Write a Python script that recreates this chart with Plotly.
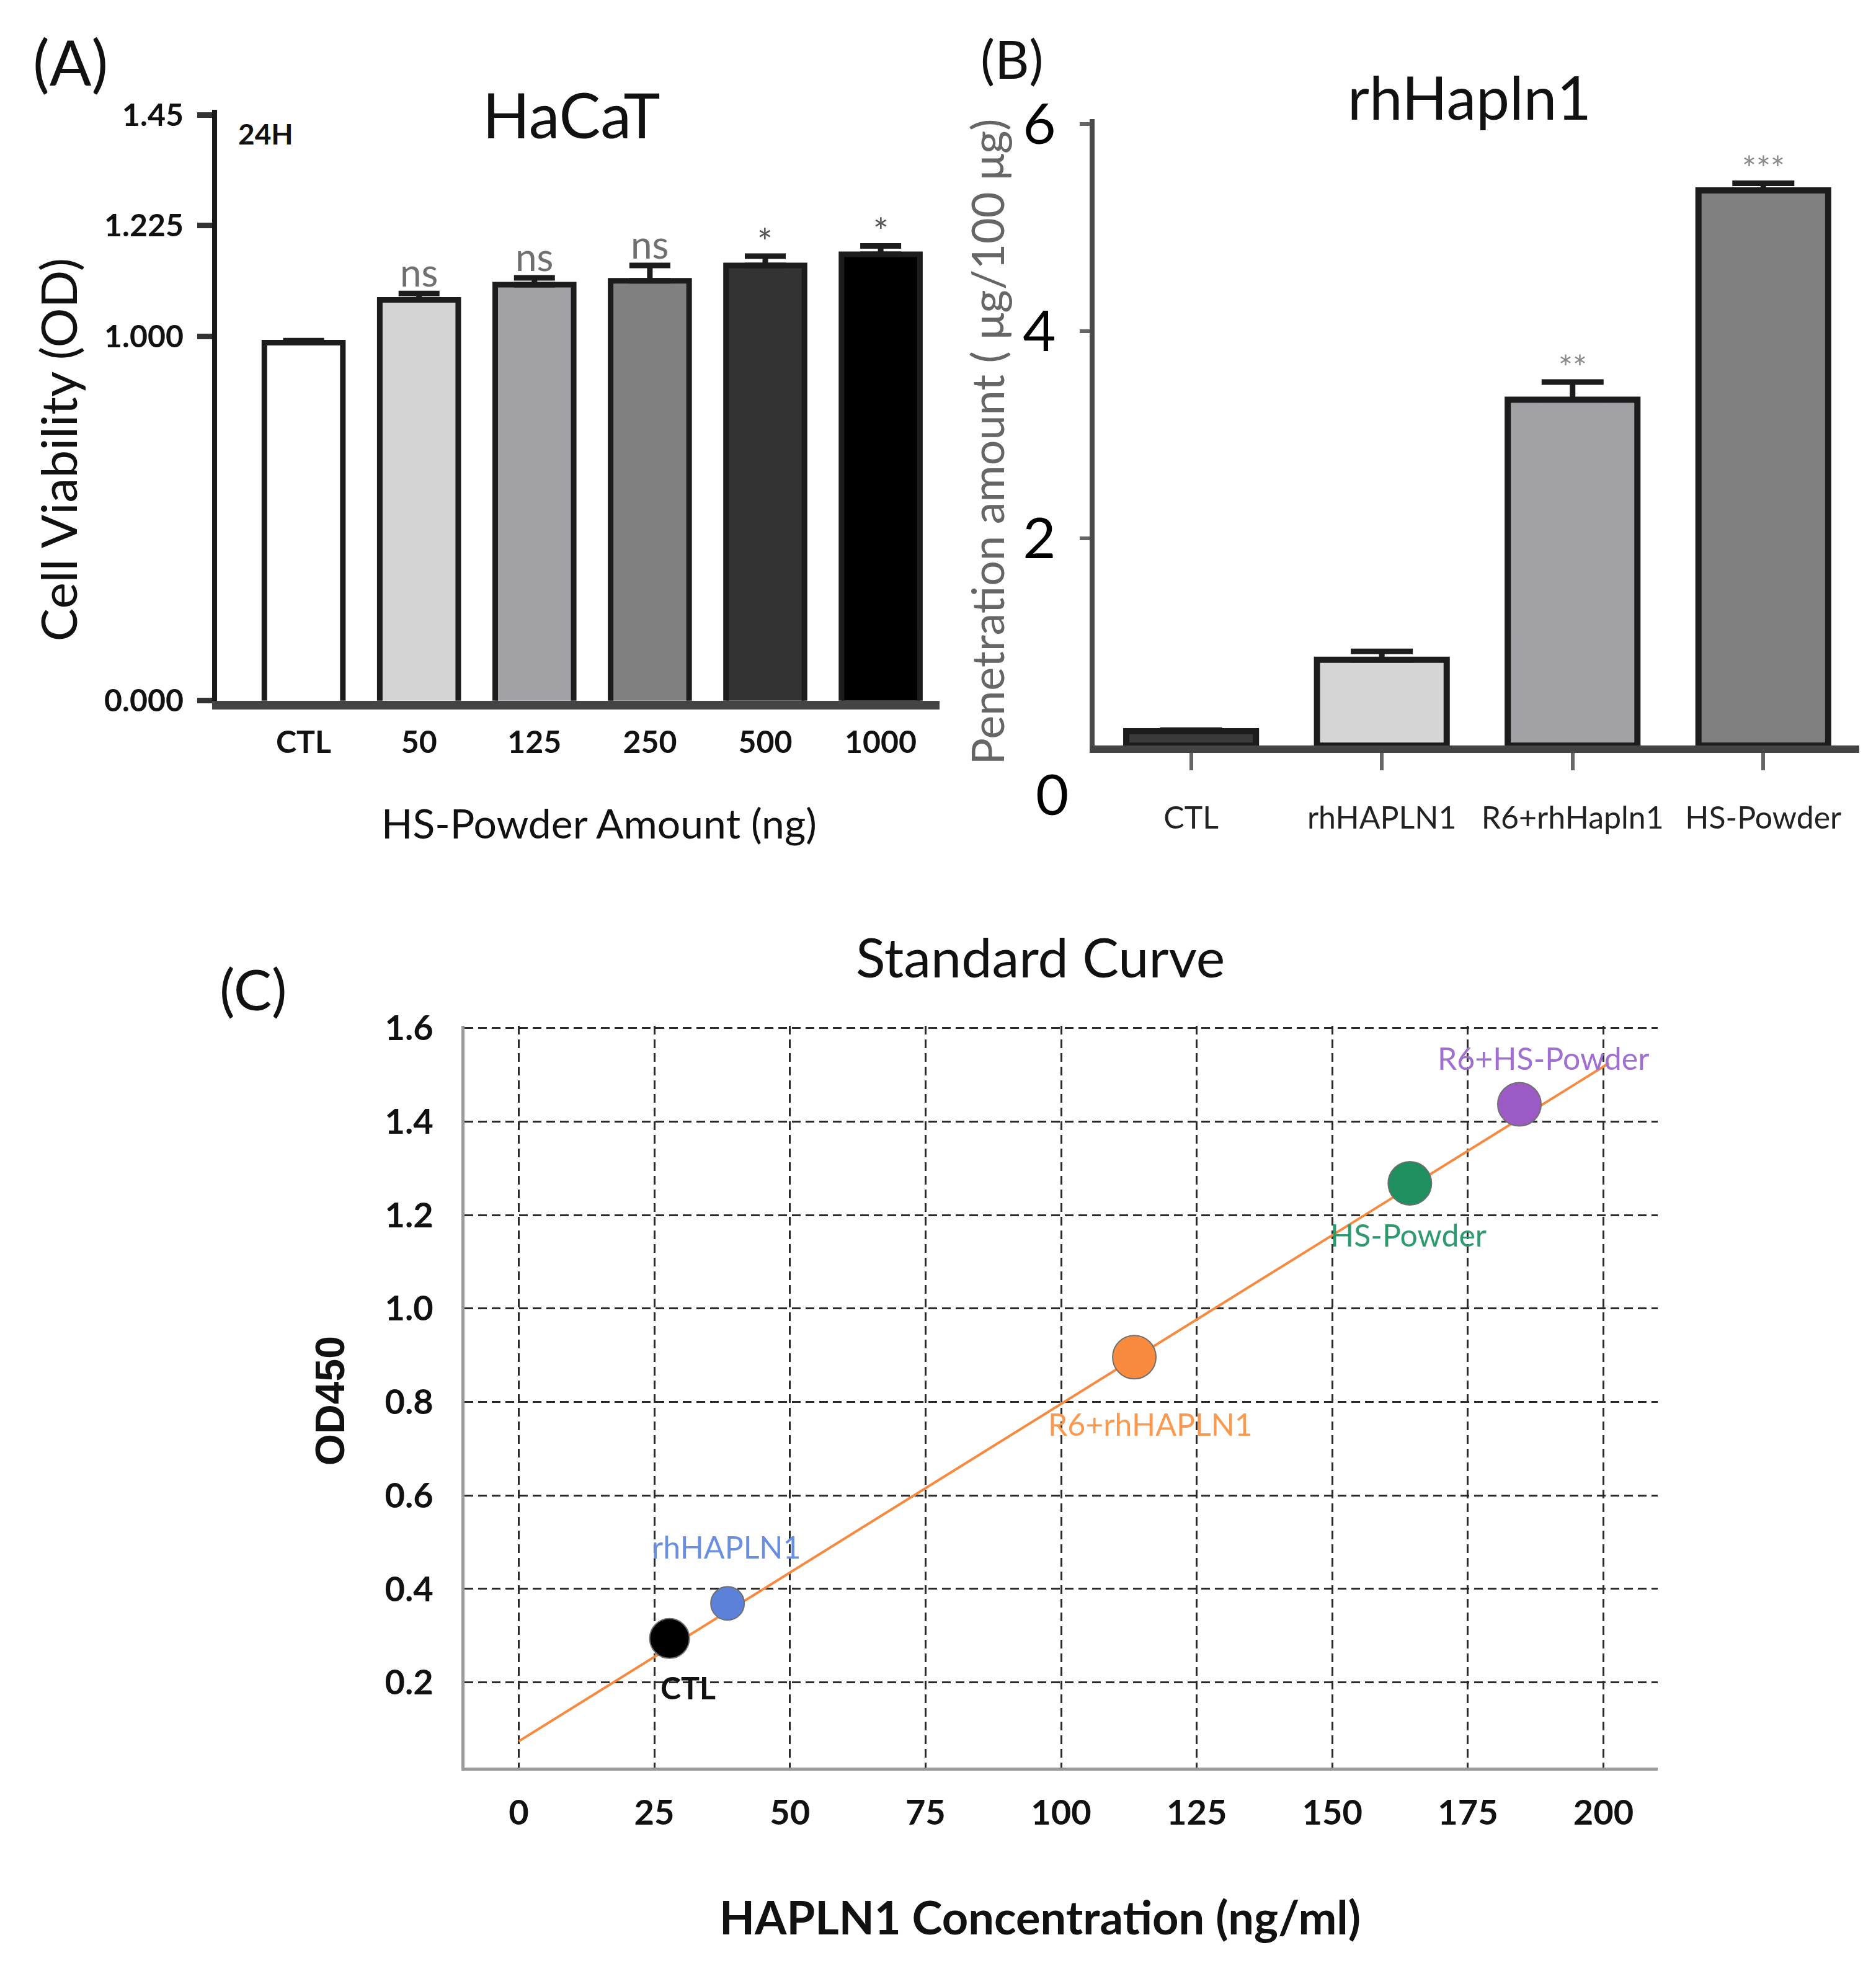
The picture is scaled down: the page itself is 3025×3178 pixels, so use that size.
import plotly.graph_objects as go

W, H = 3025, 3178

# ---------------- Panel A data ----------------
a_categories = ["CTL", "50", "125", "250", "500", "1000"]
a_values = [0.987, 1.074, 1.105, 1.113, 1.144, 1.167]
a_errors = [0.004, 0.013, 0.014, 0.031, 0.019, 0.017]
a_colors = ["#ffffff", "#d4d4d4", "#a2a1a6", "#808080", "#333333", "#000000"]
a_marks = ["", "ns", "ns", "ns", "*", "*"]
a_tickvals = [0.2585, 1.0, 1.225, 1.45]
a_ticktext = ["0.000", "1.000", "1.225", "1.45"]

# ---------------- Panel B data ----------------
b_categories = ["CTL", "rhHAPLN1", "R6+rhHapln1", "HS-Powder"]
b_values = [0.14, 0.83, 3.34, 5.36]
b_errors = [0.01, 0.08, 0.17, 0.07]
b_colors = ["#3a3a3a", "#d6d6d6", "#a2a2a6", "#808080"]
b_marks = ["", "", "**", "***"]
b_tickvals = [2, 4, 6]

# ---------------- Panel C data ----------------
c_labels = ["CTL", "rhHAPLN1", "R6+rhHAPLN1", "HS-Powder", "R6+HS-Powder"]
c_x = [27.8, 38.5, 113.5, 164.3, 184.5]
c_y = [0.294, 0.369, 0.896, 1.268, 1.437]
c_colors = ["#000000", "#5b82d8", "#f98b3e", "#1f8f5f", "#9c5bc4"]
c_text_colors = ["#111111", "#6b8fe0", "#f99a50", "#2e9a6e", "#a070d0"]
c_sizes = [64, 54, 70, 70, 70]
c_label_dx = [30, -2, 26, -2, 39]
c_label_dy = [-79, 91, -108, -83, 75]
fit_x = [0, 201]
fit_y = [0.074, 1.525]
c_xticks = [0, 25, 50, 75, 100, 125, 150, 175, 200]
c_yticks = [0.2, 0.4, 0.6, 0.8, 1.0, 1.2, 1.4, 1.6]

FONT = "Lato"
TOP = 60.0
SPAN = H - TOP


def px(x):
    return x / W


def py(y):
    return 1 - (y - TOP) / SPAN


fig = go.Figure()

# Panel A bars
fig.add_trace(go.Bar(
    x=a_categories, y=a_values, xaxis="x", yaxis="y",
    marker=dict(color=a_colors, line=dict(color="#1c1c1c", width=9)),
    error_y=dict(type="data", array=a_errors, arrayminus=[0] * len(a_errors),
                 symmetric=False, thickness=9, width=33, color="#1c1c1c"),
    showlegend=False, hoverinfo="skip",
))

# Panel B bars
fig.add_trace(go.Bar(
    x=b_categories, y=b_values, xaxis="x2", yaxis="y2",
    marker=dict(color=b_colors, line=dict(color="#1c1c1c", width=10)),
    error_y=dict(type="data", array=b_errors, arrayminus=[0] * len(b_errors),
                 symmetric=False, thickness=9, width=50, color="#1c1c1c"),
    showlegend=False, hoverinfo="skip",
))

# Panel C fit line
fig.add_trace(go.Scatter(
    x=fit_x, y=fit_y, xaxis="x3", yaxis="y3", mode="lines",
    line=dict(color="#f58a40", width=4), showlegend=False, hoverinfo="skip",
))
# Panel C points
fig.add_trace(go.Scatter(
    x=c_x, y=c_y, xaxis="x3", yaxis="y3", mode="markers",
    marker=dict(color=c_colors, size=c_sizes, opacity=1,
                line=dict(color="#6f6f6f", width=2)),
    showlegend=False, hoverinfo="skip",
))

annotations = []

# significance marks panel A (category index positions)
for i, (v, e, m) in enumerate(zip(a_values, a_errors, a_marks)):
    if m:
        annotations.append(dict(
            x=i, y=v + e, xref="x", yref="y", text=m, showarrow=False,
            yanchor="bottom", yshift=(-4 if m == "ns" else -12),
            font=dict(family=FONT, size=(62 if m == "ns" else 58),
                      color=("#707070" if m == "ns" else "#555555")),
        ))

# significance marks panel B
for i, (v, e, m) in enumerate(zip(b_values, b_errors, b_marks)):
    if m:
        annotations.append(dict(
            x=i, y=v + e, xref="x2", yref="y2", text=m, showarrow=False,
            yanchor="bottom", yshift=-10,
            font=dict(family=FONT, size=54, color="#8a8a8a"),
        ))

# point labels panel C
for lab, x, y, col, dx, dy in zip(c_labels, c_x, c_y, c_text_colors, c_label_dx, c_label_dy):
    annotations.append(dict(
        x=x, y=y, xref="x3", yref="y3", text=lab, showarrow=False,
        xshift=dx, yshift=dy,
        font=dict(family=FONT, size=50, color=col,
                  weight=("bold" if lab == "CTL" else "normal")),
    ))


def txt(text, x, y, size, color="#111111", angle=0, weight="normal", family=FONT):
    annotations.append(dict(
        x=px(x), y=py(y), xref="paper", yref="paper", text=text, showarrow=False,
        xanchor="center", yanchor="middle", textangle=angle,
        font=dict(family=family, size=size, color=color, weight=weight),
    ))


# Panel A texts
txt("(A)", 105, 101, 100)
txt("HaCaT", 913, 187, 100)
txt("24H", 420, 218, 46, weight="bold")
txt("Cell Viability (OD)", 85, 731, 80, angle=-90)
txt("HS-Powder Amount (ng)", 958, 1336, 66)

# Panel B texts
txt("(B)", 1624, 96, 86)
txt("rhHapln1", 2361, 158, 96)
txt("Penetration amount ( μg/100 μg)", 1583, 718, 72, color="#666666", angle=-90)
txt("0", 1688, 1288, 92, color="#000000")

# Panel C texts
txt("(C)", 400, 1604, 92)
txt("Standard Curve", 1669, 1553, 88)
txt("OD450", 524, 2274, 66, angle=-90, weight="bold", family="Liberation Sans")
txt("HAPLN1 Concentration (ng/ml)", 1669, 3110, 74, weight="bold")

grid_common = dict(showgrid=True, gridcolor="#2a2a2a", gridwidth=3, griddash="14px,8px",
                   zeroline=False, showline=True, linewidth=5, linecolor="#9a9a9a",
                   ticks="", tickfont=dict(family=FONT, size=56, color="#111111", weight="bold"))

fig.update_layout(
    width=W, height=H, autosize=False,
    margin=dict(l=0, r=0, t=0, b=0),
    paper_bgcolor="white", plot_bgcolor="white",
    bargap=0.32,
    annotations=annotations,
    xaxis=dict(
        domain=[px(342), px(1507)], anchor="y", type="category",
        range=[-0.75, 5.51], showline=True, linewidth=14, linecolor="#444444",
        ticks="", showgrid=False, zeroline=False, ticklabelstandoff=10,
        tickfont=dict(family=FONT, size=50, color="#111111", weight="bold"),
    ),
    yaxis=dict(
        domain=[py(1138), py(180)], anchor="x",
        range=[0.2585, 1.4605], tickvals=a_tickvals, ticktext=a_ticktext,
        showline=True, linewidth=8, linecolor="#1a1a1a",
        ticks="outside", ticklen=24, tickwidth=9, tickcolor="#333333",
        showgrid=False, zeroline=False, ticklabelstandoff=12,
        tickfont=dict(family=FONT, size=50, color="#111111", weight="bold"),
    ),
    xaxis2=dict(
        domain=[px(1757), px(2990)], anchor="y2", type="category",
        range=[-0.506, 3.503], showline=True, linewidth=12, linecolor="#444444",
        ticks="outside", ticklen=28, tickwidth=6, tickcolor="#666666",
        showgrid=False, zeroline=False, ticklabelstandoff=34,
        tickfont=dict(family=FONT, size=50, color="#222222"),
    ),
    yaxis2=dict(
        domain=[py(1211), py(1211 - 6.05 * 168)], anchor="x2",
        range=[0, 6.05], tickvals=b_tickvals,
        showline=True, linewidth=8, linecolor="#4a4a4a",
        ticks="outside", ticklen=16, tickwidth=6, tickcolor="#666666",
        showgrid=False, zeroline=False, ticklabelstandoff=20,
        tickfont=dict(family=FONT, size=92, color="#000000"),
    ),
    xaxis3=dict(
        domain=[px(741), px(2665)], anchor="y3",
        range=[-10, 210], tickvals=c_xticks, ticklabelstandoff=20,
        **grid_common,
    ),
    yaxis3=dict(
        domain=[py(2868), py(1669 - 0.005 * 758)], anchor="x3",
        range=[0.018, 1.605], tickvals=c_yticks, tickformat=".1f", ticklabelstandoff=34,
        **grid_common,
    ),
)

fig.write_html("out.html")
